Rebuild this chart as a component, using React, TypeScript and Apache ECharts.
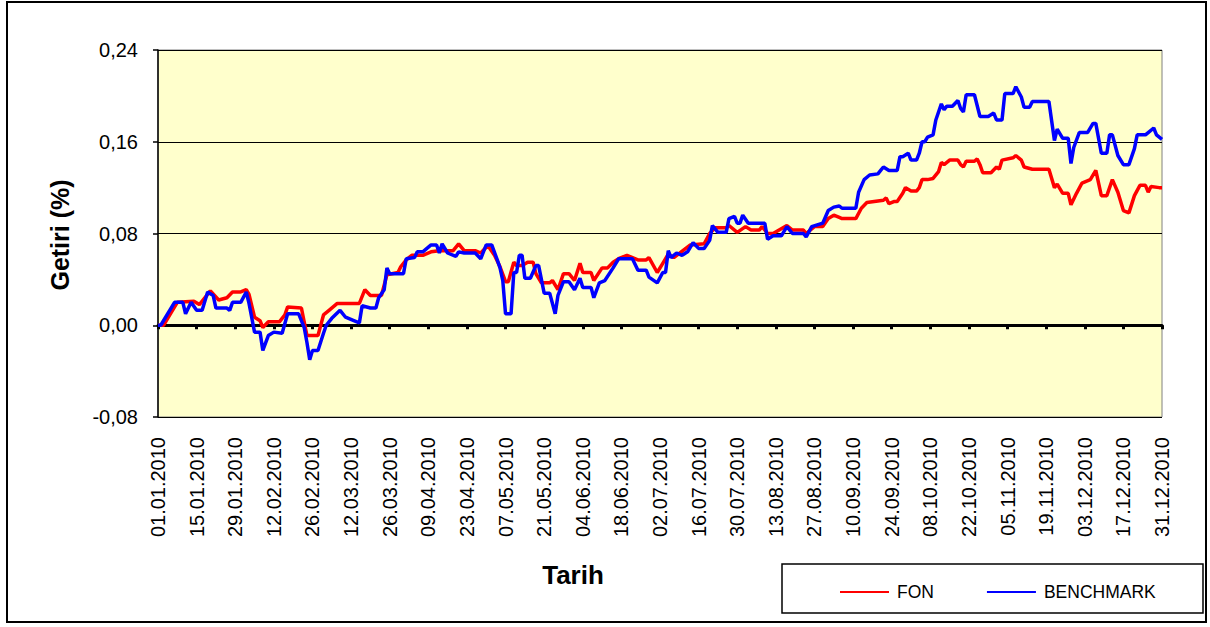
import React, { useEffect, useRef } from "react";
import * as echarts from "echarts";

// days since 01.01.2010
const fonDays = [0,2,7,13,15,19,22,25,27,30,32,33,35,37,38,40,44,46,47,52,53,54,58,60,62,65,71,73,75,77,81,82,83,87,88,90,92,96,99,102,107,109,111,115,117,119,120,122,124,126,127,129,130,132,134,136,137,139,142,143,145,147,149,151,153,154,157,158,161,163,165,167,170,174,177,178,181,183,185,187,193,198,200,202,206,207,210,213,215,218,219,221,223,228,230,234,235,238,241,243,245,247,248,253,255,257,263,264,265,267,268,270,271,273,275,276,277,279,281,283,284,285,287,290,291,292,293,296,297,298,299,302,304,305,306,310,311,313,314,317,323,325,326,328,330,331,333,335,338,340,342,344,346,348,350,352,354,356,358,359,360,363,364];
const fonValues = [0,0,0.020,0.021,0.018,0.030,0.022,0.024,0.029,0.029,0.031,0.027,0.007,0.004,-0.002,0.003,0.003,0.009,0.016,0.015,0.003,-0.009,-0.009,0.009,0.013,0.019,0.019,0.019,0.031,0.026,0.026,0.035,0.044,0.046,0.051,0.057,0.061,0.061,0.064,0.065,0.065,0.071,0.065,0.065,0.063,0.068,0.068,0.061,0.051,0.038,0.038,0.055,0.052,0.052,0.055,0.055,0.045,0.037,0.037,0.039,0.031,0.045,0.045,0.039,0.054,0.046,0.046,0.039,0.050,0.050,0.055,0.058,0.061,0.057,0.057,0.059,0.046,0.054,0.062,0.059,0.070,0.071,0.080,0.085,0.085,0.087,0.081,0.086,0.083,0.083,0.086,0.080,0.080,0.087,0.083,0.083,0.080,0.086,0.086,0.093,0.096,0.094,0.093,0.093,0.102,0.107,0.109,0.111,0.106,0.108,0.108,0.115,0.120,0.117,0.117,0.120,0.127,0.127,0.128,0.134,0.142,0.140,0.144,0.144,0.140,0.138,0.143,0.143,0.145,0.140,0.133,0.133,0.138,0.136,0.144,0.146,0.148,0.144,0.138,0.136,0.136,0.120,0.123,0.115,0.115,0.105,0.115,0.124,0.127,0.135,0.113,0.113,0.127,0.116,0.100,0.098,0.113,0.122,0.122,0.116,0.121,0.120,0.120];

const benchDays = [0,1,6,9,10,12,14,16,18,20,21,25,26,27,30,32,33,35,37,38,40,42,45,47,51,53,54,55,56,58,60,61,63,66,68,71,73,74,77,79,80,82,83,84,89,90,93,94,96,99,101,102,103,105,108,109,111,115,117,119,121,123,124,125,126,128,129,130,131,132,133,135,137,138,140,142,144,145,147,149,151,153,154,157,158,160,162,165,167,172,174,177,178,181,183,184,185,186,188,190,192,194,196,198,200,201,203,206,207,209,210,211,212,214,220,221,223,226,228,230,234,235,237,241,243,245,247,248,253,254,256,258,261,262,263,265,268,269,270,272,273,275,276,277,278,279,281,282,284,285,286,288,290,291,292,293,296,298,301,303,304,306,307,310,311,313,314,316,317,323,325,326,328,330,331,332,334,337,339,340,342,344,345,346,348,350,352,354,355,358,359,361,362,364];
const benchValues = [0,0,0.020,0.020,0.010,0.020,0.013,0.013,0.029,0.026,0.015,0.015,0.013,0.020,0.020,0.029,0.019,-0.006,-0.006,-0.022,-0.009,-0.006,-0.007,0.010,0.010,-0.002,-0.015,-0.030,-0.022,-0.022,-0.007,0.000,0.006,0.013,0.007,0.004,0.002,0.017,0.015,0.015,0.024,0.031,0.050,0.045,0.045,0.058,0.059,0.064,0.064,0.070,0.070,0.063,0.071,0.063,0.060,0.064,0.063,0.063,0.058,0.070,0.070,0.057,0.050,0.039,0.010,0.010,0.046,0.046,0.061,0.061,0.041,0.041,0.052,0.052,0.028,0.028,0.010,0.026,0.038,0.038,0.031,0.041,0.033,0.033,0.024,0.037,0.039,0.050,0.058,0.058,0.048,0.048,0.042,0.037,0.046,0.046,0.065,0.059,0.063,0.061,0.064,0.072,0.067,0.067,0.074,0.087,0.081,0.081,0.093,0.095,0.089,0.089,0.096,0.089,0.089,0.075,0.078,0.078,0.086,0.080,0.080,0.077,0.086,0.089,0.100,0.103,0.104,0.102,0.102,0.116,0.127,0.131,0.132,0.135,0.138,0.135,0.135,0.147,0.147,0.150,0.144,0.144,0.150,0.160,0.160,0.164,0.166,0.179,0.193,0.188,0.191,0.191,0.196,0.189,0.186,0.201,0.201,0.182,0.182,0.185,0.179,0.179,0.202,0.202,0.208,0.199,0.190,0.190,0.195,0.195,0.161,0.171,0.163,0.163,0.141,0.155,0.168,0.168,0.176,0.176,0.150,0.150,0.166,0.166,0.148,0.140,0.140,0.154,0.166,0.166,0.168,0.172,0.166,0.162];

const seriesNames = ["FON", "BENCHMARK"];
const yTicks = { min: -0.08, max: 0.24, step: 0.08 };
const xTicks = { min: 0, max: 364, step: 14 };

const FONT = "'Liberation Sans', Arial, sans-serif";

function dayLabel(d: number): string {
  const dt = new Date(Date.UTC(2010, 0, 1 + Math.round(d)));
  const dd = String(dt.getUTCDate()).padStart(2, "0");
  const mm = String(dt.getUTCMonth() + 1).padStart(2, "0");
  return `${dd}.${mm}.${dt.getUTCFullYear()}`;
}

export default function App() {
  const ref = useRef<HTMLDivElement>(null);
  useEffect(() => {
    document.body.style.margin = "0";
    const chart = echarts.init(ref.current!, null, { renderer: "svg" });
    const fon = fonDays.map((d, i) => [d, fonValues[i]]);
    const bench = benchDays.map((d, i) => [d, benchValues[i]]);
    chart.setOption({
      animation: false,
      backgroundColor: "#ffffff",
      grid: {
        left: 158,
        top: 50,
        right: 48,
        bottom: 210,
        show: true,
        backgroundColor: "#FFFFCC",
        borderColor: "#808080",
        borderWidth: 1,
      },
      xAxis: [
        {
          type: "value",
          min: xTicks.min,
          max: xTicks.max,
          interval: xTicks.step,
          position: "bottom",
          axisLine: { show: false, onZero: false },
          axisTick: { show: false },
          splitLine: { show: false },
          axisLabel: {
            rotate: 90,
            margin: 20,
            fontSize: 20,
            fontFamily: FONT,
            color: "#000",
            formatter: (v: number) => dayLabel(v),
          },
        },
        {
          type: "value",
          min: xTicks.min,
          max: xTicks.max,
          interval: xTicks.step,
          position: "bottom",
          axisLine: { show: true, onZero: true, lineStyle: { color: "#000", width: 3 } },
          axisTick: { show: true, length: 4, lineStyle: { color: "#000", width: 3 } },
          splitLine: { show: false },
          axisLabel: { show: false },
        },
      ],
      yAxis: {
        type: "value",
        min: yTicks.min,
        max: yTicks.max,
        interval: yTicks.step,
        axisLine: { show: true, onZero: false, lineStyle: { color: "#000", width: 1.5 } },
        axisTick: { show: true, length: 5, lineStyle: { color: "#000", width: 1.5 } },
        splitLine: { show: true, lineStyle: { color: "#000", width: 1.2 } },
        axisLabel: {
          margin: 20,
          fontSize: 20,
          fontFamily: FONT,
          color: "#000",
          formatter: (v: number) => (Math.round(v * 100) / 100).toFixed(2).replace(".", ","),
        },
      },
      legend: {
        left: 835,
        top: 578,
        itemWidth: 49,
        itemHeight: 2,
        itemGap: 53,
        icon: "rect",
        textStyle: { fontSize: 17.5, fontFamily: FONT, color: "#000", padding: [0, 0, 0, 3] },
        data: seriesNames,
      },
      graphic: [
        {
          type: "rect",
          z: -10,
          shape: { x: 7, y: 2, width: 1199, height: 620 },
          style: { fill: "none", stroke: "#000", lineWidth: 2 },
        },
        {
          type: "rect",
          z: -5,
          shape: { x: 782, y: 564, width: 421, height: 49 },
          style: { fill: "#fff", stroke: "#000", lineWidth: 1.5 },
        },
        {
          type: "text",
          x: 60,
          y: 235,
          rotation: Math.PI / 2,
          style: {
            text: "Getiri (%)",
            fontSize: 25,
            fontWeight: "bold",
            fontFamily: FONT,
            fill: "#000",
            textAlign: "center",
            textVerticalAlign: "middle",
          },
        },
        {
          type: "text",
          x: 573,
          y: 575,
          style: {
            text: "Tarih",
            fontSize: 26,
            fontWeight: "bold",
            fontFamily: FONT,
            fill: "#000",
            textAlign: "center",
            textVerticalAlign: "middle",
          },
        },
      ],
      series: [
        {
          name: seriesNames[0],
          type: "line",
          xAxisIndex: 0,
          data: fon,
          showSymbol: false,
          color: "#FF0000",
          lineStyle: { color: "#FF0000", width: 3.5 },
          z: 3,
        },
        {
          name: seriesNames[1],
          type: "line",
          xAxisIndex: 0,
          data: bench,
          showSymbol: false,
          color: "#0000FF",
          lineStyle: { color: "#0000FF", width: 3.5 },
          z: 4,
        },
      ],
    });
    return () => chart.dispose();
  }, []);
  return <div ref={ref} style={{ width: 1210, height: 627 }} />;
}
